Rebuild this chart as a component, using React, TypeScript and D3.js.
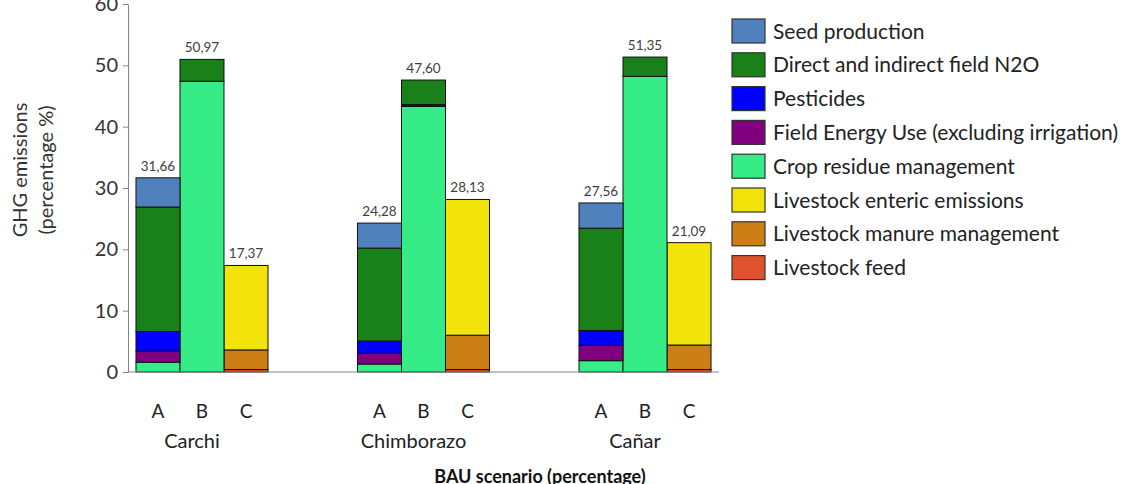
import * as d3 from "d3";
import { useEffect, useRef } from "react";

const width = 1135;
const height = 484;
const margin = { top: 4, left: 128, bottom: 112 };
const plotRight = 719;
const font = "Lato, 'Open Sans', sans-serif";

const regions = ["Carchi", "Chimborazo", "Cañar"];
const scenarios = ["A", "B", "C"];
const sources = [
  "Seed production",
  "Direct and indirect field N2O",
  "Pesticides",
  "Field Energy Use (excluding irrigation)",
  "Crop residue management",
  "Livestock enteric emissions",
  "Livestock manure management",
  "Livestock feed",
];
const colors = [
  "#4f81bd",
  "#19801a",
  "#0000ff",
  "#800080",
  "#36ec86",
  "#f2e30a",
  "#cc7f14",
  "#e0522e",
];
const yTicks = [0, 10, 20, 30, 40, 50, 60];

// one value per bar: Carchi A,B,C | Chimborazo A,B,C | Cañar A,B,C
const seed = [4.76, 0, 0, 4.08, 0, 0, 4.11, 0, 0];
const n2o = [20.3, 3.57, 0, 15.15, 4.0, 0, 16.7, 3.15, 0];
const pesticides = [3.2, 0, 0, 2.0, 0.3, 0, 2.4, 0, 0];
const energy = [1.8, 0, 0, 1.75, 0, 0, 2.5, 0, 0];
const residue = [1.6, 47.4, 0, 1.3, 43.3, 0, 1.85, 48.2, 0];
const enteric = [0, 0, 13.77, 0, 0, 22.13, 0, 0, 16.69];
const manure = [0, 0, 3.2, 0, 0, 5.6, 0, 0, 4.0];
const feed = [0, 0, 0.4, 0, 0, 0.4, 0, 0, 0.4];

const seriesValues = [seed, n2o, pesticides, energy, residue, enteric, manure, feed];

type Row = { region: string; scenario: string; [k: string]: string | number };

const rows: Row[] = regions.flatMap((region, ri) =>
  scenarios.map((scenario, si) => {
    const row: Row = { region, scenario };
    sources.forEach((s, k) => {
      row[s] = seriesValues[k][ri * 3 + si];
    });
    return row;
  })
);

const App = () => {
  const ref = useRef<SVGSVGElement | null>(null);

  useEffect(() => {
    if (!ref.current) return;
    const svg = d3.select(ref.current);
    svg.selectAll("*").remove();

    const x0 = d3
      .scaleBand()
      .domain(regions)
      .range([margin.left, plotRight])
      .paddingInner(0.404)
      .paddingOuter(0.036);
    const x1 = d3.scaleBand().domain(scenarios).range([0, x0.bandwidth()]);
    const y = d3
      .scaleLinear()
      .domain([0, 60])
      .range([height - margin.bottom, margin.top]);

    // stack bottom-up: reverse of legend order
    const keys = [...sources].reverse();
    const stacked = d3.stack<Row>().keys(keys).value((d, k) => d[k] as number)(rows);
    const color = d3.scaleOrdinal<string, string>().domain(sources).range(colors);

    const bx = (d: Row) => (x0(d.region) ?? 0) + (x1(d.scenario) ?? 0);

    stacked.forEach((layer) => {
      svg
        .append("g")
        .selectAll("rect")
        .data(layer.filter((d) => d[1] - d[0] > 0))
        .join("rect")
        .attr("x", (d) => bx(d.data))
        .attr("y", (d) => y(d[1]))
        .attr("width", x1.bandwidth())
        .attr("height", (d) => y(d[0]) - y(d[1]))
        .attr("fill", color(layer.key))
        .attr("stroke", "#111")
        .attr("stroke-width", 1);
    });

    // totals
    const fmt = d3.format(".2f");
    svg
      .append("g")
      .selectAll("text")
      .data(rows)
      .join("text")
      .attr("x", (d) => bx(d) + x1.bandwidth() / 2)
      .attr("y", (d) => y(d3.sum(sources, (s) => d[s] as number)) - 7)
      .attr("text-anchor", "middle")
      .attr("font-family", font)
      .attr("font-size", 13.5)
      .attr("fill", "#404040")
      .text((d) => fmt(d3.sum(sources, (s) => d[s] as number)).replace(".", ","));

    // y axis
    const axis = svg
      .append("g")
      .attr("transform", `translate(${margin.left},0)`)
      .call(
        d3.axisLeft(y).tickValues(yTicks).tickSize(5).tickSizeOuter(0).tickPadding(5)
      );
    axis.select(".domain").attr("stroke", "#868686");
    axis.selectAll(".tick line").attr("stroke", "#868686");
    axis
      .selectAll(".tick text")
      .attr("font-family", font)
      .attr("font-size", 20)
      .attr("fill", "#333");

    // baseline
    svg
      .append("line")
      .attr("x1", margin.left)
      .attr("x2", plotRight)
      .attr("y1", y(0))
      .attr("y2", y(0))
      .attr("stroke", "#868686");

    // scenario letters
    svg
      .append("g")
      .selectAll("text")
      .data(rows)
      .join("text")
      .attr("x", (d) => bx(d) + x1.bandwidth() / 2)
      .attr("y", 418)
      .attr("text-anchor", "middle")
      .attr("font-family", font)
      .attr("font-size", 19)
      .attr("fill", "#222")
      .text((d) => d.scenario);

    // region labels
    svg
      .append("g")
      .selectAll("text")
      .data(regions)
      .join("text")
      .attr("x", (d) => (x0(d) ?? 0) + x0.bandwidth() / 2 - 10)
      .attr("y", 448)
      .attr("text-anchor", "middle")
      .attr("font-family", font)
      .attr("font-size", 20)
      .attr("fill", "#222")
      .text((d) => d);

    svg
      .append("text")
      .attr("x", 540)
      .attr("y", 483)
      .attr("text-anchor", "middle")
      .attr("font-family", font)
      .attr("font-size", 18)
      .attr("font-weight", "bold")
      .attr("fill", "#111")
      .text("BAU scenario (percentage)");

    // y title
    const title = svg
      .append("text")
      .attr("transform", `translate(0,170) rotate(-90)`)
      .attr("text-anchor", "middle")
      .attr("font-family", font)
      .attr("font-size", 20)
      .attr("fill", "#333");
    title.append("tspan").attr("x", 0).attr("y", 27).text("GHG emissions");
    title.append("tspan").attr("x", 0).attr("y", 53).text("(percentage %)");

    // legend
    const legend = svg
      .append("g")
      .selectAll("g")
      .data(sources)
      .join("g")
      .attr("transform", (d, i) => `translate(732,${19 + i * 33.8})`);
    legend
      .append("rect")
      .attr("width", 33)
      .attr("height", 24)
      .attr("fill", (d) => color(d))
      .attr("stroke", "#333")
      .attr("stroke-width", 1.2);
    legend
      .append("text")
      .attr("x", 41)
      .attr("y", 12)
      .attr("dy", "0.36em")
      .attr("font-family", font)
      .attr("font-size", 21)
      .attr("fill", "#222")
      .text((d) => d);
  }, []);

  return (
    <svg
      ref={ref}
      width={width}
      height={height}
      style={{ position: "absolute", left: 0, top: 0, background: "#fff" }}
    />
  );
};

export default App;
